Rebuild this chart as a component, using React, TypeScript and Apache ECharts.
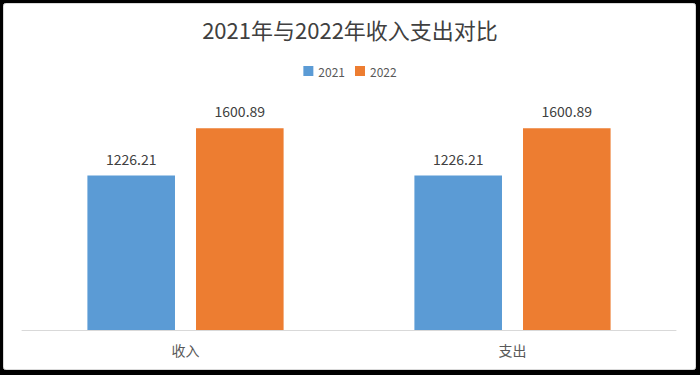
import React, { useEffect, useRef } from "react";
import * as echarts from "echarts";

const categories = ["收入", "支出"];
const seriesNames = ["2021", "2022"];
const values2021 = [1226.21, 1226.21];
const values2022 = [1600.89, 1600.89];
const colors = ["#5B9BD5", "#ED7D31"];

export default function App() {
  const ref = useRef<HTMLDivElement>(null);
  useEffect(() => {
    document.body.style.margin = "0";
    const chart = echarts.init(ref.current!, null, { renderer: "svg" });
    const font = '"Noto Sans CJK SC", "Noto Sans", sans-serif';
    chart.setOption({
      animation: false,
      backgroundColor: "#000000",
      graphic: [
        {
          type: "rect",
          z: -10,
          silent: true,
          shape: { x: 3.5, y: 3.5, width: 692, height: 366, r: 2 },
          style: { fill: "#ffffff", stroke: "#d9d9d9", lineWidth: 1 },
        },
      ],
      title: {
        text: "2021年与2022年收入支出对比",
        left: "center",
        top: 13,
        textStyle: { fontFamily: font, fontSize: 22, fontWeight: "normal", color: "#404040" },
      },
      legend: {
        data: seriesNames,
        top: 60,
        left: "center",
        itemWidth: 10,
        itemHeight: 10,
        itemGap: 10,
        icon: "rect",
        textStyle: { fontFamily: font, fontSize: 12, color: "#595959" },
      },
      grid: { left: 22, right: 24, top: 78, bottom: 45, containLabel: false },
      xAxis: {
        type: "category",
        data: categories,
        axisLine: { lineStyle: { color: "#d9d9d9", width: 1 } },
        axisTick: { show: false },
        axisLabel: { fontFamily: font, fontSize: 14, color: "#595959", margin: 13 },
      },
      yAxis: {
        type: "value",
        min: 0,
        max: 2000,
        show: false,
        splitLine: { show: false },
      },
      series: [
        {
          name: seriesNames[0],
          type: "bar",
          data: values2021,
          itemStyle: { color: colors[0] },
          barGap: "24%",
          barCategoryGap: "40%",
          label: {
            show: true,
            position: "top",
            distance: 10,
            fontFamily: font,
            fontSize: 14,
            color: "#404040",
          },
        },
        {
          name: seriesNames[1],
          type: "bar",
          data: values2022,
          itemStyle: { color: colors[1] },
          barGap: "24%",
          barCategoryGap: "40%",
          label: {
            show: true,
            position: "top",
            distance: 10,
            fontFamily: font,
            fontSize: 14,
            color: "#404040",
          },
        },
      ],
    });
    return () => chart.dispose();
  }, []);
  return <div ref={ref} style={{ width: 700, height: 375, position: "absolute", left: 0, top: 0 }} />;
}
